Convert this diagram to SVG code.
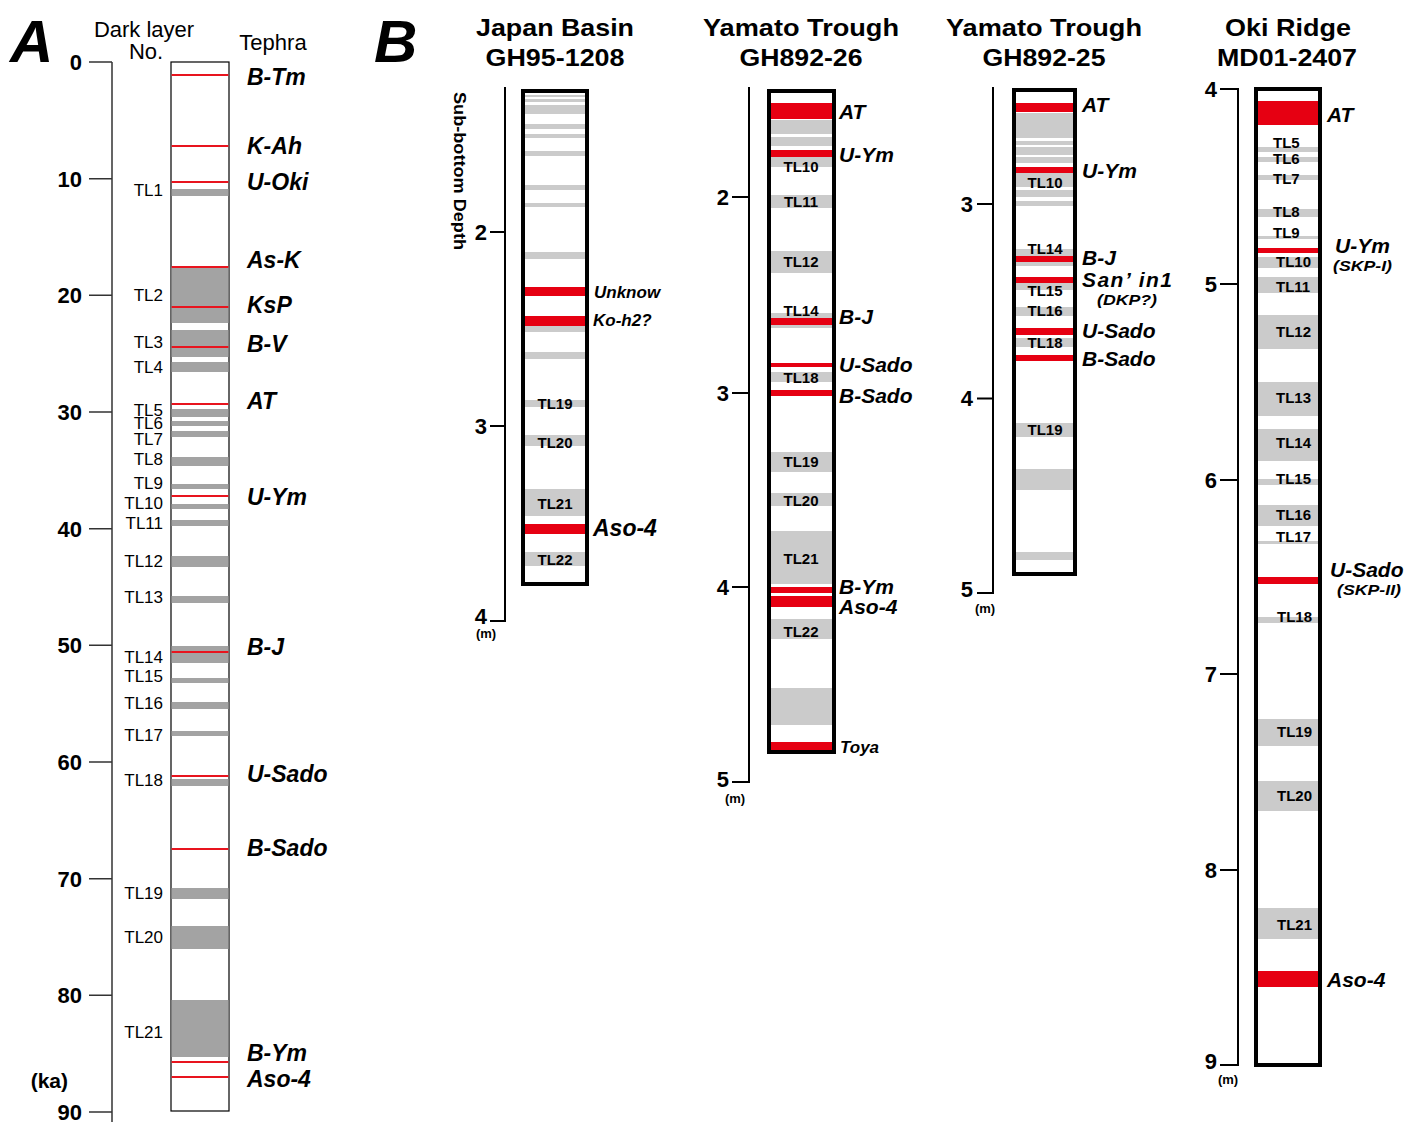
<svg xmlns="http://www.w3.org/2000/svg" width="1417" height="1128" viewBox="0 0 1417 1128">
<style>
text{font-family:"Liberation Sans",Arial,sans-serif;fill:#000}
.big{font-size:60px;font-weight:bold;font-style:italic}
.hdr{font-size:24px;font-weight:bold;text-anchor:middle}
.lbl{font-size:22px}
.numA{font-size:22px;font-weight:bold;text-anchor:end}
.num{font-size:22px;font-weight:bold;text-anchor:end}
.m{font-size:13px;font-weight:bold;text-anchor:middle}
.tlA{font-size:17px;text-anchor:end}
.tl{font-size:15px;font-weight:bold;text-anchor:middle}
.tls{font-size:15px;font-weight:bold}
.tph{font-size:23px;font-weight:bold;font-style:italic}
.tpb{font-size:21px;font-weight:bold;font-style:italic}
.tps{font-size:17px;font-weight:bold;font-style:italic}
.sub{font-size:15px;font-weight:bold;font-style:italic}
.axA{stroke:#333;stroke-width:1.5;fill:none}
.ax{stroke:#000;stroke-width:2;fill:none}
.colA{fill:#fff;stroke:#000;stroke-width:1.2}
.col{fill:#fff;stroke:#000;stroke-width:4}
.dg{fill:#a3a3a3}
.lg{fill:#cbcbcb}
.rd{fill:#e60012}
.rdA{fill:#e8141e}
</style>

<!-- Panel A -->
<g id="panelA">
<text class="big" x="10" y="62">A</text>
<text class="lbl" x="144" y="37" text-anchor="middle">Dark layer</text>
<text class="lbl" x="146" y="59" text-anchor="middle">No.</text>
<text class="lbl" x="273" y="50" text-anchor="middle">Tephra</text>
<g id="axisA">
<path class="axA" d="M112,62V1122M89,62H112M89,178.7H112M89,295.3H112M89,412H112M89,528.7H112M89,645.3H112M89,762H112M89,878.7H112M89,995.3H112M89,1112H112"/>
<text class="numA" x="82" y="70">0</text>
<text class="numA" x="82" y="187">10</text>
<text class="numA" x="82" y="303">20</text>
<text class="numA" x="82" y="420">30</text>
<text class="numA" x="82" y="537">40</text>
<text class="numA" x="82" y="653">50</text>
<text class="numA" x="82" y="770">60</text>
<text class="numA" x="82" y="887">70</text>
<text class="numA" x="82" y="1003">80</text>
<text class="numA" x="82" y="1120">90</text>
<text class="numA" x="68" y="1088" style="font-size:21px">(ka)</text>
</g>
<g id="columnA">
<rect class="colA" x="171" y="62" width="58" height="1049"/>
<g class="dg">
<rect x="171.6" y="189" width="56.8" height="7"/>
<rect x="171.6" y="267" width="56.8" height="56"/>
<rect x="171.6" y="330" width="56.8" height="27"/>
<rect x="171.6" y="362" width="56.8" height="10"/>
<rect x="171.6" y="409" width="56.8" height="8"/>
<rect x="171.6" y="421" width="56.8" height="5"/>
<rect x="171.6" y="431" width="56.8" height="6"/>
<rect x="171.6" y="457" width="56.8" height="9"/>
<rect x="171.6" y="484" width="56.8" height="5"/>
<rect x="171.6" y="504" width="56.8" height="5"/>
<rect x="171.6" y="520" width="56.8" height="6"/>
<rect x="171.6" y="556" width="56.8" height="11"/>
<rect x="171.6" y="596" width="56.8" height="7"/>
<rect x="171.6" y="646" width="56.8" height="17"/>
<rect x="171.6" y="678" width="56.8" height="5"/>
<rect x="171.6" y="702" width="56.8" height="7"/>
<rect x="171.6" y="731" width="56.8" height="5"/>
<rect x="171.6" y="779" width="56.8" height="7"/>
<rect x="171.6" y="888" width="56.8" height="11"/>
<rect x="171.6" y="926" width="56.8" height="23"/>
<rect x="171.6" y="1000" width="56.8" height="57"/>
</g>
<g class="rdA">
<rect x="171.6" y="74" width="56.8" height="2"/>
<rect x="171.6" y="145" width="56.8" height="2"/>
<rect x="171.6" y="181" width="56.8" height="2"/>
<rect x="171.6" y="266" width="56.8" height="2"/>
<rect x="171.6" y="306" width="56.8" height="2"/>
<rect x="171.6" y="346" width="56.8" height="2"/>
<rect x="171.6" y="403" width="56.8" height="2"/>
<rect x="171.6" y="495" width="56.8" height="2"/>
<rect x="171.6" y="651" width="56.8" height="2"/>
<rect x="171.6" y="775" width="56.8" height="2"/>
<rect x="171.6" y="848" width="56.8" height="2"/>
<rect x="171.6" y="1061" width="56.8" height="2"/>
<rect x="171.6" y="1076" width="56.8" height="2"/>
</g>
</g>
<g id="labelsA">
<text class="tlA" x="163" y="196">TL1</text>
<text class="tlA" x="163" y="301">TL2</text>
<text class="tlA" x="163" y="348">TL3</text>
<text class="tlA" x="163" y="373">TL4</text>
<text class="tlA" x="163" y="416">TL5</text>
<text class="tlA" x="163" y="429">TL6</text>
<text class="tlA" x="163" y="445">TL7</text>
<text class="tlA" x="163" y="465">TL8</text>
<text class="tlA" x="163" y="489">TL9</text>
<text class="tlA" x="163" y="509">TL10</text>
<text class="tlA" x="163" y="529">TL11</text>
<text class="tlA" x="163" y="567">TL12</text>
<text class="tlA" x="163" y="603">TL13</text>
<text class="tlA" x="163" y="663">TL14</text>
<text class="tlA" x="163" y="682">TL15</text>
<text class="tlA" x="163" y="709">TL16</text>
<text class="tlA" x="163" y="741">TL17</text>
<text class="tlA" x="163" y="786">TL18</text>
<text class="tlA" x="163" y="899">TL19</text>
<text class="tlA" x="163" y="943">TL20</text>
<text class="tlA" x="163" y="1038">TL21</text>
<text class="tph" x="247" y="85">B-Tm</text>
<text class="tph" x="247" y="154">K-Ah</text>
<text class="tph" x="247" y="190">U-Oki</text>
<text class="tph" x="247" y="268">As-K</text>
<text class="tph" x="247" y="313">KsP</text>
<text class="tph" x="247" y="352">B-V</text>
<text class="tph" x="247" y="409">AT</text>
<text class="tph" x="247" y="505">U-Ym</text>
<text class="tph" x="247" y="655">B-J</text>
<text class="tph" x="247" y="782">U-Sado</text>
<text class="tph" x="247" y="856">B-Sado</text>
<text class="tph" x="247" y="1061">B-Ym</text>
<text class="tph" x="247" y="1087">Aso-4</text>
</g>
</g>

<!-- Panel B -->
<text class="big" x="374" y="62">B</text>

<g id="colJapanBasin">
<text class="hdr" x="555" y="36" textLength="158" lengthAdjust="spacingAndGlyphs">Japan Basin</text>
<text class="hdr" x="555" y="66" textLength="139" lengthAdjust="spacingAndGlyphs">GH95-1208</text>
<text class="sub" style="font-style:normal;font-size:16px" transform="translate(454,171) rotate(90)" text-anchor="middle" textLength="158" lengthAdjust="spacingAndGlyphs">Sub-bottom Depth</text>
<path class="ax" d="M505,87V621H490M490,232H505M490,426H505"/>
<text class="num" x="487" y="240">2</text>
<text class="num" x="487" y="434">3</text>
<text class="num" x="487" y="624">4</text>
<text class="m" x="486" y="638">(m)</text>
<rect class="col" x="523" y="91" width="64" height="493"/>
<g class="lg">
<rect x="525" y="95" width="60" height="2"/>
<rect x="525" y="99" width="60" height="3"/>
<rect x="525" y="105" width="60" height="9"/>
<rect x="525" y="124" width="60" height="5"/>
<rect x="525" y="134" width="60" height="4"/>
<rect x="525" y="151" width="60" height="5"/>
<rect x="525" y="185" width="60" height="5"/>
<rect x="525" y="203" width="60" height="4"/>
<rect x="525" y="252" width="60" height="7"/>
<rect x="525" y="326" width="60" height="6"/>
<rect x="525" y="352" width="60" height="7"/>
<rect x="525" y="400" width="60" height="7"/>
<rect x="525" y="435" width="60" height="11"/>
<rect x="525" y="489" width="60" height="27"/>
<rect x="525" y="552" width="60" height="14"/>
</g>
<g class="rd">
<rect x="525" y="287" width="60" height="9"/>
<rect x="525" y="316" width="60" height="10"/>
<rect x="525" y="524" width="60" height="10"/>
</g>
<text class="tl" x="555" y="409">TL19</text>
<text class="tl" x="555" y="448">TL20</text>
<text class="tl" x="555" y="509">TL21</text>
<text class="tl" x="555" y="565">TL22</text>
<text class="tps" x="594" y="298">Unknow</text>
<text class="tps" x="593" y="326">Ko-h2?</text>
<text class="tph" x="593" y="536">Aso-4</text>
</g>

<g id="colGH892-26">
<text class="hdr" x="801" y="36" textLength="196" lengthAdjust="spacingAndGlyphs">Yamato Trough</text>
<text class="hdr" x="801" y="66" textLength="123" lengthAdjust="spacingAndGlyphs">GH892-26</text>
<path class="ax" d="M749,87V782H732M732,197H749M732,393H749M732,587H749"/>
<text class="num" x="729" y="205">2</text>
<text class="num" x="729" y="401">3</text>
<text class="num" x="729" y="595">4</text>
<text class="num" x="729" y="787">5</text>
<text class="m" x="735" y="803">(m)</text>
<rect class="col" x="769" y="91" width="65" height="661"/>
<g class="lg">
<rect x="771" y="120" width="61" height="14"/>
<rect x="771" y="137" width="61" height="9"/>
<rect x="771" y="157" width="61" height="10"/>
<rect x="771" y="195" width="61" height="13"/>
<rect x="771" y="251" width="61" height="22"/>
<rect x="771" y="313" width="61" height="15"/>
<rect x="771" y="372" width="61" height="10"/>
<rect x="771" y="452" width="61" height="20"/>
<rect x="771" y="493" width="61" height="13"/>
<rect x="771" y="531" width="61" height="53"/>
<rect x="771" y="619" width="61" height="20"/>
<rect x="771" y="688" width="61" height="37"/>
</g>
<g class="rd">
<rect x="771" y="103" width="61" height="16"/>
<rect x="771" y="150" width="61" height="7"/>
<rect x="771" y="318" width="61" height="7"/>
<rect x="771" y="363" width="61" height="4"/>
<rect x="771" y="390" width="61" height="6"/>
<rect x="771" y="587" width="61" height="6"/>
<rect x="771" y="596" width="61" height="11"/>
<rect x="771" y="742" width="61" height="8"/>
</g>
<text class="tl" x="801" y="172">TL10</text>
<text class="tl" x="801" y="207">TL11</text>
<text class="tl" x="801" y="267">TL12</text>
<text class="tl" x="801" y="316">TL14</text>
<text class="tl" x="801" y="383">TL18</text>
<text class="tl" x="801" y="467">TL19</text>
<text class="tl" x="801" y="506">TL20</text>
<text class="tl" x="801" y="564">TL21</text>
<text class="tl" x="801" y="637">TL22</text>
<text class="tpb" x="839" y="119">AT</text>
<text class="tpb" x="839" y="162">U-Ym</text>
<text class="tpb" x="839" y="324">B-J</text>
<text class="tpb" x="839" y="372">U-Sado</text>
<text class="tpb" x="839" y="403">B-Sado</text>
<text class="tpb" x="839" y="594">B-Ym</text>
<text class="tpb" x="839" y="614">Aso-4</text>
<text class="tps" x="840" y="753">Toya</text>
</g>

<g id="colGH892-25">
<text class="hdr" x="1044" y="36" textLength="196" lengthAdjust="spacingAndGlyphs">Yamato Trough</text>
<text class="hdr" x="1044" y="66" textLength="123" lengthAdjust="spacingAndGlyphs">GH892-25</text>
<path class="ax" d="M993,87V593H977M977,204H993M977,398.5H993"/>
<text class="num" x="973" y="212">3</text>
<text class="num" x="973" y="406">4</text>
<text class="num" x="973" y="597">5</text>
<text class="m" x="985" y="613">(m)</text>
<rect class="col" x="1014" y="90" width="61" height="484"/>
<g class="lg">
<rect x="1016" y="113" width="57" height="25"/>
<rect x="1016" y="141" width="57" height="4"/>
<rect x="1016" y="147" width="57" height="8"/>
<rect x="1016" y="157" width="57" height="6"/>
<rect x="1016" y="173" width="57" height="14"/>
<rect x="1016" y="190" width="57" height="7"/>
<rect x="1016" y="201" width="57" height="5"/>
<rect x="1016" y="249" width="57" height="17"/>
<rect x="1016" y="283" width="57" height="7"/>
<rect x="1016" y="307" width="57" height="9"/>
<rect x="1016" y="338" width="57" height="9"/>
<rect x="1016" y="423" width="57" height="14"/>
<rect x="1016" y="469" width="57" height="21"/>
<rect x="1016" y="552" width="57" height="8"/>
</g>
<g class="rd">
<rect x="1016" y="103" width="57" height="9"/>
<rect x="1016" y="167" width="57" height="6"/>
<rect x="1016" y="256" width="57" height="6"/>
<rect x="1016" y="277" width="57" height="6"/>
<rect x="1016" y="328" width="57" height="7"/>
<rect x="1016" y="355" width="57" height="6"/>
</g>
<text class="tl" x="1045" y="188">TL10</text>
<text class="tl" x="1045" y="254">TL14</text>
<text class="tl" x="1045" y="296">TL15</text>
<text class="tl" x="1045" y="316">TL16</text>
<text class="tl" x="1045" y="348">TL18</text>
<text class="tl" x="1045" y="435">TL19</text>
<text class="tpb" x="1082" y="112">AT</text>
<text class="tpb" x="1082" y="178">U-Ym</text>
<text class="tpb" x="1082" y="265">B-J</text>
<text class="tpb" x="1082" y="287" textLength="90" lengthAdjust="spacing">San’ in1</text>
<text class="sub" x="1097" y="305" textLength="60" lengthAdjust="spacingAndGlyphs">(DKP?)</text>
<text class="tpb" x="1082" y="338">U-Sado</text>
<text class="tpb" x="1082" y="366">B-Sado</text>
</g>

<g id="colMD01-2407">
<text class="hdr" x="1288" y="36" textLength="126" lengthAdjust="spacingAndGlyphs">Oki Ridge</text>
<text class="hdr" x="1287" y="66" textLength="140" lengthAdjust="spacingAndGlyphs">MD01-2407</text>
<path class="ax" d="M1220,89H1238V1065H1220M1220,284H1238M1220,480H1238M1220,674H1238M1220,870H1238"/>
<text class="num" x="1217" y="97">4</text>
<text class="num" x="1217" y="292">5</text>
<text class="num" x="1217" y="488">6</text>
<text class="num" x="1217" y="682">7</text>
<text class="num" x="1217" y="878">8</text>
<text class="num" x="1217" y="1069">9</text>
<text class="m" x="1228" y="1084">(m)</text>
<rect class="col" x="1256" y="89" width="64" height="976"/>
<g class="lg">
<rect x="1258" y="147" width="60" height="5"/>
<rect x="1258" y="157" width="60" height="5"/>
<rect x="1258" y="175" width="60" height="5"/>
<rect x="1258" y="209" width="60" height="8"/>
<rect x="1258" y="236" width="60" height="3"/>
<rect x="1258" y="257" width="60" height="11"/>
<rect x="1258" y="277" width="60" height="16"/>
<rect x="1258" y="315" width="60" height="34"/>
<rect x="1258" y="382" width="60" height="34"/>
<rect x="1258" y="429" width="60" height="32"/>
<rect x="1258" y="479" width="60" height="6"/>
<rect x="1258" y="505" width="60" height="21"/>
<rect x="1258" y="541" width="60" height="3"/>
<rect x="1258" y="617" width="60" height="6"/>
<rect x="1258" y="719" width="60" height="27"/>
<rect x="1258" y="781" width="60" height="30"/>
<rect x="1258" y="908" width="60" height="31"/>
</g>
<g class="rd">
<rect x="1258" y="101" width="60" height="24"/>
<rect x="1258" y="248" width="60" height="5"/>
<rect x="1258" y="577" width="60" height="7"/>
<rect x="1258" y="971" width="60" height="16"/>
</g>
<text class="tls" x="1273" y="148">TL5</text>
<text class="tls" x="1273" y="164">TL6</text>
<text class="tls" x="1273" y="184">TL7</text>
<text class="tls" x="1273" y="217">TL8</text>
<text class="tls" x="1273" y="238">TL9</text>
<text class="tls" x="1276" y="267">TL10</text>
<text class="tls" x="1276" y="292">TL11</text>
<text class="tls" x="1276" y="337">TL12</text>
<text class="tls" x="1276" y="403">TL13</text>
<text class="tls" x="1276" y="448">TL14</text>
<text class="tls" x="1276" y="484">TL15</text>
<text class="tls" x="1276" y="520">TL16</text>
<text class="tls" x="1276" y="542">TL17</text>
<text class="tls" x="1277" y="622">TL18</text>
<text class="tls" x="1277" y="737">TL19</text>
<text class="tls" x="1277" y="801">TL20</text>
<text class="tls" x="1277" y="930">TL21</text>
<text class="tpb" x="1327" y="122">AT</text>
<text class="tpb" x="1335" y="253">U-Ym</text>
<text class="sub" x="1333" y="271" textLength="59" lengthAdjust="spacingAndGlyphs">(SKP-I)</text>
<text class="tpb" x="1330" y="577">U-Sado</text>
<text class="sub" x="1337" y="595" textLength="64" lengthAdjust="spacingAndGlyphs">(SKP-II)</text>
<text class="tpb" x="1327" y="987">Aso-4</text>
</g>
</svg>
